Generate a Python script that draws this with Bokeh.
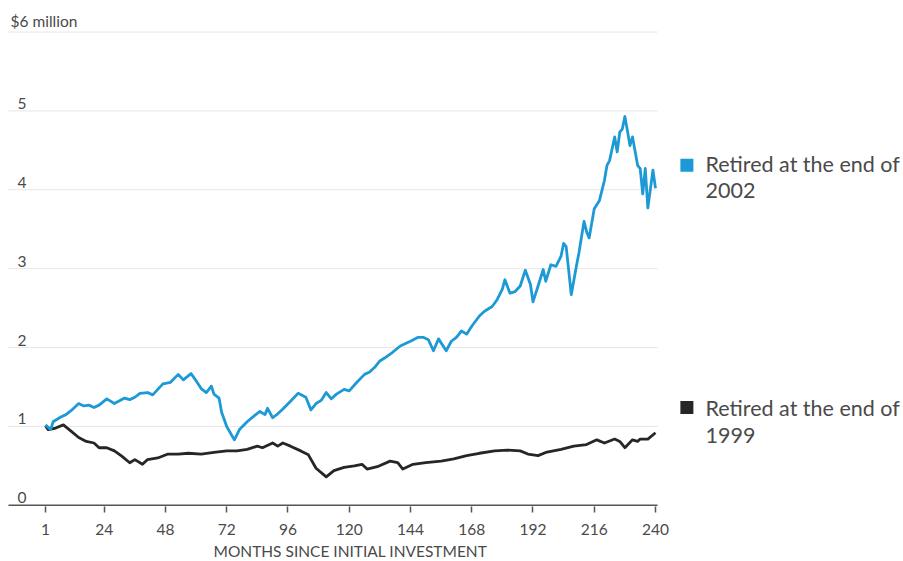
from bokeh.plotting import figure
from bokeh.models import FixedTicker, Range1d, Title
from bokeh.core.properties import value
from bokeh.embed import file_html
from bokeh.resources import INLINE

# ---- data ----
months_2002 = [1, 3, 4, 7, 9, 11, 14, 16, 18, 20, 22, 25, 26, 28, 32, 34, 36, 38, 41, 43,
               47, 50, 53, 55, 58, 60, 62, 64, 66, 67, 69, 70, 72, 75, 77, 80, 83, 85, 87, 88,
               90, 92, 94, 97, 100, 103, 105, 107, 109, 111, 113, 115, 118, 120, 123, 126, 128, 130, 132, 134,
               137, 140, 144, 147, 149, 151, 153, 155, 158, 160, 162, 164, 166, 168, 171, 173, 176, 178, 180, 181,
               183, 185, 187, 189, 191, 192, 194, 196, 197, 199, 201, 203, 204, 205, 207, 209, 210, 212, 213, 214,
               216, 218, 220, 221, 222, 224, 225, 226, 227, 228, 229, 230, 231, 233, 234, 235, 236, 237, 239, 240]
values_2002 = [1.02, 0.96, 1.06, 1.12, 1.15, 1.20, 1.29, 1.26, 1.27, 1.24, 1.27, 1.35, 1.33, 1.29, 1.36, 1.34, 1.37, 1.42, 1.43, 1.40,
               1.54, 1.56, 1.66, 1.59, 1.67, 1.58, 1.48, 1.43, 1.51, 1.41, 1.36, 1.18, 1.00, 0.83, 0.96, 1.06, 1.14, 1.19, 1.15, 1.23,
               1.11, 1.16, 1.22, 1.32, 1.42, 1.37, 1.21, 1.29, 1.33, 1.43, 1.35, 1.41, 1.47, 1.45, 1.56, 1.66, 1.69, 1.75, 1.83, 1.87,
               1.94, 2.02, 2.08, 2.13, 2.13, 2.10, 1.96, 2.11, 1.96, 2.08, 2.13, 2.21, 2.17, 2.27, 2.40, 2.46, 2.52, 2.61, 2.74, 2.86,
               2.69, 2.71, 2.78, 2.98, 2.80, 2.58, 2.78, 2.99, 2.84, 3.05, 3.03, 3.16, 3.32, 3.28, 2.67, 3.03, 3.20, 3.60, 3.47, 3.39,
               3.76, 3.86, 4.12, 4.31, 4.37, 4.67, 4.48, 4.73, 4.77, 4.93, 4.75, 4.56, 4.67, 4.31, 4.27, 3.95, 4.27, 3.77, 4.25, 4.02]

months_1999 = [1, 2, 5, 8, 11, 14, 17, 20, 22, 25, 28, 31, 34, 36, 39, 41, 45, 49, 53, 57,
               62, 67, 72, 76, 80, 84, 86, 90, 92, 94, 97, 101, 104, 107, 111, 114, 118, 122, 125, 127,
               131, 136, 139, 141, 145, 150, 156, 161, 166, 171, 177, 182, 187, 190, 194, 197, 203, 208, 213, 217,
               220, 224, 226, 228, 231, 233, 234, 237, 240]
values_1999 = [1.01, 0.96, 0.98, 1.02, 0.94, 0.86, 0.81, 0.79, 0.73, 0.73, 0.69, 0.62, 0.54, 0.58, 0.52, 0.58, 0.60, 0.65, 0.65, 0.66,
               0.65, 0.67, 0.69, 0.69, 0.71, 0.75, 0.73, 0.79, 0.75, 0.79, 0.75, 0.69, 0.64, 0.47, 0.36, 0.44, 0.48, 0.50, 0.52, 0.46,
               0.49, 0.56, 0.54, 0.46, 0.52, 0.54, 0.56, 0.59, 0.63, 0.66, 0.69, 0.70, 0.69, 0.65, 0.63, 0.67, 0.71, 0.75, 0.77, 0.83,
               0.79, 0.84, 0.81, 0.73, 0.83, 0.81, 0.84, 0.84, 0.92]

x_ticks = [1, 24, 48, 72, 96, 120, 144, 168, 192, 216, 240]
y_ticks = [0, 1, 2, 3, 4, 5, 6]
y_tick_labels = ["0", "1", "2", "3", "4", "5", "$6 million"]
legend_line1 = "Retired at the end of"
legend_years = ["2002", "1999"]
x_axis_title = "MONTHS SINCE INITIAL INVESTMENT"

BLUE = "#1d9ad6"
DARK = "#262626"
TEXT = "#4a4a4a"
FONT = "Lato"

X0, X1 = -13.5, 240.8          # extent of the chart area (grid and axis line)
p = figure(width=903, height=561, output_backend="svg", toolbar_location=None,
           x_range=Range1d(-16.63, 337.17), y_range=Range1d(-0.015, 6.40),
           min_border_left=0, min_border_right=0, min_border_top=0, min_border_bottom=55,
           y_axis_location=None)
p.outline_line_color = None
p.xgrid.visible = False
p.ygrid.visible = False

# horizontal grid lines, limited to the chart area
grid_y = y_ticks[1:]
p.segment(x0=[X0] * len(grid_y), y0=grid_y, x1=[X1] * len(grid_y), y1=grid_y,
          line_color="#e6e6e6", line_width=1)
# axis base line
p.segment(x0=[X0], y0=[0], x1=[X1], y1=[0], line_color="#555555", line_width=1.5)

ax = p.xaxis[0]
ax.ticker = FixedTicker(ticks=x_ticks)
ax.axis_line_color = None
ax.major_tick_line_color = "#555555"
ax.major_tick_line_width = 1.5
ax.major_tick_out = 6
ax.major_tick_in = 0
ax.minor_tick_line_color = None
ax.major_label_text_font = FONT
ax.major_label_text_font_size = "15.5px"
ax.major_label_text_color = TEXT
ax.major_label_standoff = 11

p.add_layout(Title(text=x_axis_title, align="left", offset=213, text_font=FONT,
                   text_font_size="15.5px", text_color=TEXT, text_font_style="normal",
                   standoff=4), "below")

# lines
p.line(months_1999, values_1999, line_color=DARK, line_width=2.8, line_join="round")
p.line(months_2002, values_2002, line_color=BLUE, line_width=2.8, line_join="round")

# y tick labels inside the plot
label_x = [-10] * 6 + [-12.7]
p.text(x=label_x, y=y_ticks, text=y_tick_labels, text_font=value(FONT),
       text_font_size="15.5px", text_color=TEXT, text_align="left",
       text_baseline="bottom", y_offset=-2)

# legend (drawn in the right part of the frame)
sq_x, tx_x = 252.3, 259.6
p.scatter(x=[sq_x, sq_x], y=[4.31, 1.24], marker="square", size=13,
          fill_color=[BLUE, DARK], line_color=None)
p.text(x=[tx_x] * 4, y=[4.33, 3.99, 1.23, 0.89],
       text=[legend_line1, legend_years[0], legend_line1, legend_years[1]],
       text_font=value(FONT), text_font_size="21.5px", text_color=TEXT,
       text_align="left", text_baseline="middle")

open("out.html", "w").write(file_html(p, INLINE))
